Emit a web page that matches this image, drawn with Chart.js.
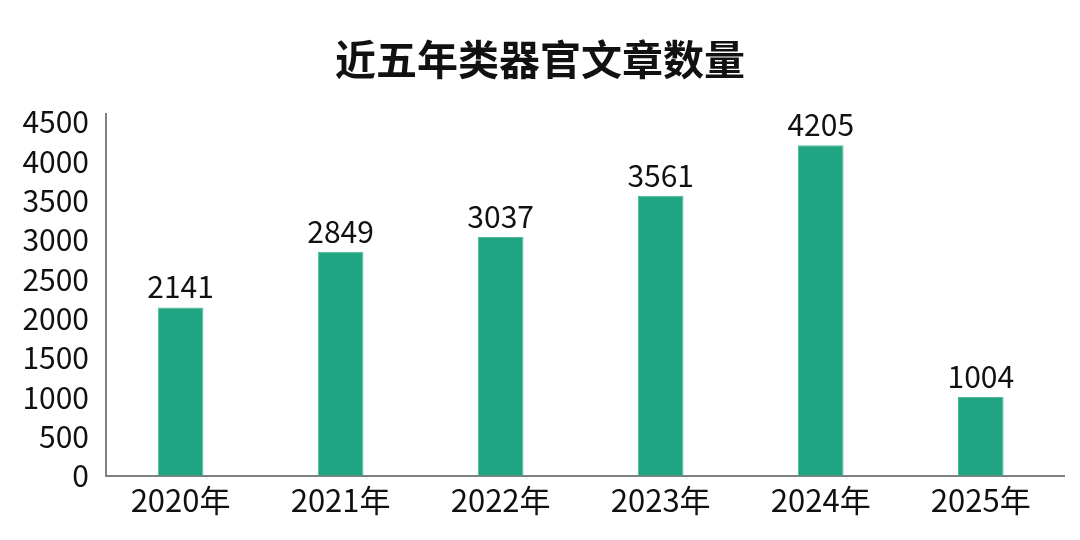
<!DOCTYPE html>
<html>
<head>
<meta charset="utf-8">
<script src="https://cdn.jsdelivr.net/npm/chart.js@4/dist/chart.umd.min.js"></script>
<style>
html,body{margin:0;padding:0;background:#fff;}
#wrap{width:1080px;height:540px;}
</style>
</head>
<body>
<div id="wrap"><canvas id="c" width="1080" height="540"></canvas></div>
<script>
const title = "近五年类器官文章数量";
const categories = ["2020年","2021年","2022年","2023年","2024年","2025年"];
const counts = [2141, 2849, 3037, 3561, 4205, 1004];
const yTicks = [0, 500, 1000, 1500, 2000, 2500, 3000, 3500, 4000, 4500];
const yMax = 4600;
const xMin = -0.466;
const xMax = 5.52;

const FONT = "'Noto Sans CJK SC', 'Noto Sans', sans-serif";

const points = counts.map((v, i) => ({ x: i, y: v }));

const valueLabels = {
  id: 'valueLabels',
  afterDatasetsDraw(chart) {
    const ctx = chart.ctx;
    const meta = chart.getDatasetMeta(0);
    ctx.save();
    ctx.font = "30px " + FONT;
    ctx.fillStyle = "#111";
    ctx.textAlign = "center";
    ctx.textBaseline = "alphabetic";
    meta.data.forEach((bar, i) => {
      ctx.fillText(String(counts[i]), bar.x, bar.y - 9);
    });
    ctx.restore();
  }
};

new Chart(document.getElementById('c'), {
  type: 'bar',
  data: {
    datasets: [{
      data: points,
      backgroundColor: '#20A482',
      borderColor: '#4DB89A',
      borderWidth: 1,
      barPercentage: 0.285,
      categoryPercentage: 1.0
    }]
  },
  options: {
    responsive: false,
    animation: false,
    devicePixelRatio: 1,
    layout: { padding: { left: 16, right: 16, top: 0, bottom: 15 } },
    plugins: {
      legend: { display: false },
      tooltip: { enabled: false },
      title: {
        display: true,
        text: title,
        color: '#111',
        font: { family: FONT, size: 41, weight: 'bold' },
        padding: { top: 35, bottom: 30 }
      }
    },
    scales: {
      x: {
        type: 'linear',
        min: xMin,
        max: xMax,
        offset: false,
        grid: { display: false, drawTicks: false },
        border: { display: true, color: '#808080', width: 2 },
        afterBuildTicks(scale) {
          scale.ticks = categories.map((c, i) => ({ value: i }));
        },
        ticks: {
          color: '#111',
          font: { family: FONT, size: 31 },
          padding: 6,
          maxRotation: 0,
          autoSkip: false,
          callback: (v) => categories[v] !== undefined ? categories[v] : ''
        }
      },
      y: {
        min: 0,
        max: yMax,
        grid: { display: false, drawTicks: false },
        border: { display: true, color: '#808080', width: 2 },
        afterBuildTicks(scale) {
          scale.ticks = yTicks.map(v => ({ value: v }));
        },
        afterFit(scale) {
          scale.width = 90;
        },
        ticks: {
          color: '#111',
          font: { family: FONT, size: 30 },
          padding: 17,
          callback: (v) => String(v)
        }
      }
    }
  },
  plugins: [valueLabels]
});
</script>
</body>
</html>
